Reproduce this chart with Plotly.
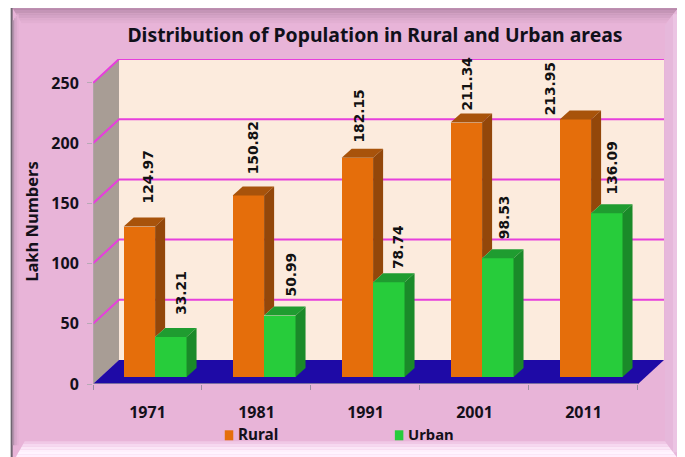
import plotly.graph_objects as go

# ---- data ----
years = ["1971", "1981", "1991", "2001", "2011"]
rural = [124.97, 150.82, 182.15, 211.34, 213.95]
urban = [33.21, 50.99, 78.74, 98.53, 136.09]
y_ticks = [0, 50, 100, 150, 200, 250]
series_names = ["Rural", "Urban"]

# ---- style ----
OFF = 8                                   # page margin of the browser
W, H = 685 - OFF, 457 - OFF
L, R, T, B = 93.3 - OFF, 664.0 - OFF, 58.7 - OFF, 383.7 - OFF     # plot box, pixels on the figure
PX_X = (637.7 - 93.3) / 5                 # px per category
PX_Y = (383.7 - 82.5) / 250               # px per value unit
WALL_DX, WALL_DY = 26 / PX_X, 24 / PX_Y   # depth of the chart box
BAR_X0, BAR_Y0 = 7.6 / PX_X, 7 / PX_Y     # where the bar fronts stand on the floor
BAR_W = 31.4 / PX_X
BAR_DX, BAR_DY = 10 / PX_X, 9 / PX_Y      # depth of a bar
C_RURAL = ("#E56E0B", "#A8530B", "#93470A")
C_URBAN = ("#27CC3B", "#1F9C30", "#1A8A29")
FONT = "Noto Sans"
LABEL_FONT = "DejaVu Sans"
# pixel nudges of the value labels relative to the bar front's top centre
SHIFT_R = [(9, 21), (5, 19), (2, 13), (1, 10), (-25, 2)]
SHIFT_U = [(10, 20), (11, 17), (9, 11), (7, 17), (5, 17)]


def px(x):
    """reference-picture x pixel to paper fraction"""
    return (x - OFF - L) / (R - L)


def py(y):
    return (B - (y - OFF)) / (B - T)


def poly(pts):
    return "M" + "L".join(f"{a},{b}" for a, b in pts) + "Z"


shapes = []


def paper_rect(x0, y0, x1, y1, color):
    shapes.append(dict(type="rect", xref="paper", yref="paper", layer="below",
                       x0=px(x0), x1=px(x1), y0=py(y0), y1=py(y1),
                       fillcolor=color, line_width=0))


def paper_poly(pts, color):
    shapes.append(dict(type="path", xref="paper", yref="paper", layer="below",
                       path=poly([(px(a), py(b)) for a, b in pts]),
                       fillcolor=color, line_width=0))


# picture frame
paper_rect(11, 7, 680, 458, "#6F6570")
paper_rect(13, 8, 678, 458, "#E8B4D8")
top_steps = ["#B98AAC", "#C495B6", "#CC9CBE", "#D4A3C6", "#DCAACD", "#E2AFD2"]
for i, c in enumerate(top_steps):
    paper_poly([(13 + 1.5 * i, 8 + 2.5 * i), (678 - 2 * i, 8 + 2.5 * i),
                (678 - 2 * i - 2, 10.5 + 2.5 * i), (13 + 1.5 * i + 1.5, 10.5 + 2.5 * i)], c)
for i, c in enumerate(["#B593AD", "#CBA0C0", "#D9A9CB", "#E2AFD2"]):
    paper_rect(13 + 1.5 * i, 20 - 2 * i, 14.5 + 1.5 * i, 445, c)
paper_poly([(678, 8), (678, 458), (665, 441), (665, 25)], "#E6B8DB")
paper_rect(673, 14, 678, 452, "#EBC4E3")
bottom_steps = ["#F0C8E6", "#F6D8F0", "#FBE6F7", "#FEF0FC", "#FFF4FF", "#FFEFFD"]
for i, c in enumerate(bottom_steps):
    paper_poly([(25 - 1.5 * i, 441 + 2.7 * i), (665 + 2 * i, 441 + 2.7 * i),
                (667 + 2 * i, 443.7 + 2.7 * i), (23.5 - 1.5 * i, 443.7 + 2.7 * i)], c)

# chart box (in data coordinates)
X_END = len(years)
shapes.append(dict(type="path", layer="below", xref="x", yref="y",
                   path=poly([(0, 0), (WALL_DX, WALL_DY), (WALL_DX, 250 + WALL_DY), (0, 250)]),
                   fillcolor="#A89D95", line_width=0))
shapes.append(dict(type="rect", layer="below", xref="x", yref="y",
                   x0=WALL_DX, x1=X_END + WALL_DX, y0=WALL_DY, y1=250 + WALL_DY,
                   fillcolor="#FCEBDD", line_width=0))
for v in y_ticks[1:]:
    shapes.append(dict(type="path", layer="below", xref="x", yref="y",
                       path=f"M0,{v}L{WALL_DX},{v + WALL_DY}L{X_END + WALL_DX},{v + WALL_DY}",
                       line=dict(color="#E63FDC", width=2)))
shapes.append(dict(type="path", layer="below", xref="x", yref="y",
                   path=poly([(0, 0), (WALL_DX, WALL_DY), (X_END + WALL_DX, WALL_DY), (X_END, 0)]),
                   fillcolor="#1E0AA6", line_width=0))
shapes.append(dict(type="line", layer="below", xref="x", yref="y",
                   x0=0, x1=X_END, y0=0, y1=0, line=dict(color="#9A8FA0", width=1.5)))
shapes.append(dict(type="line", layer="below", xref="x", yref="y",
                   x0=0, x1=0, y0=0, y1=250, line=dict(color="#B7A9B5", width=1)))

fig = go.Figure()
xs = [i + 0.5 + BAR_X0 for i in range(len(years))]

# front faces
fig.add_trace(go.Bar(x=[x - BAR_W / 2 for x in xs], y=rural, base=BAR_Y0, width=BAR_W,
                     name=series_names[0], showlegend=False, marker=dict(color=C_RURAL[0], line_width=0)))
fig.add_trace(go.Bar(x=[x + BAR_W / 2 for x in xs], y=urban, base=BAR_Y0, width=BAR_W,
                     name=series_names[1], showlegend=False, marker=dict(color=C_URBAN[0], line_width=0)))


def face(pts, color):
    fig.add_trace(go.Scatter(x=[p[0] for p in pts] + [pts[0][0]], y=[p[1] for p in pts] + [pts[0][1]],
                             mode="lines", fill="toself", fillcolor=color, line=dict(width=0, color=color),
                             hoverinfo="skip", showlegend=False))


annotations = []
for x, r, u, sr, su in zip(xs, rural, urban, SHIFT_R, SHIFT_U):
    x0, x1, x2 = x - BAR_W, x, x + BAR_W
    rt, ut = BAR_Y0 + r, BAR_Y0 + u
    # rural: top, and the part of the side that the urban bar leaves visible
    face([(x0, rt), (x1, rt), (x1 + BAR_DX, rt + BAR_DY), (x0 + BAR_DX, rt + BAR_DY)], C_RURAL[1])
    face([(x1, rt), (x1 + BAR_DX, rt + BAR_DY), (x1 + BAR_DX, ut + BAR_DY), (x1, ut)], C_RURAL[2])
    # urban: top and side
    face([(x1, ut), (x2, ut), (x2 + BAR_DX, ut + BAR_DY), (x1 + BAR_DX, ut + BAR_DY)], C_URBAN[1])
    face([(x2, ut), (x2 + BAR_DX, ut + BAR_DY), (x2 + BAR_DX, BAR_Y0 + BAR_DY), (x2, BAR_Y0)], C_URBAN[2])
    for cx, top, val, s in ((x - BAR_W / 2, rt, r, sr), (x + BAR_W / 2, ut, u, su)):
        annotations.append(dict(x=cx, y=top, xref="x", yref="y", text=f"{val:.2f}", showarrow=False,
                                textangle=-90, xanchor="center", yanchor="bottom",
                                xshift=s[0], yshift=s[1],
                                font=dict(family=LABEL_FONT, size=13.8, color="#111111", weight="bold")))

# legend keys and names
for name, color, kx, tx, size in ((series_names[0], C_RURAL[0], 225, 236.5, 15.3),
                                  (series_names[1], C_URBAN[0], 395, 406, 14.8)):
    paper_rect(kx, 430, kx + 8.5, 440, color)
    annotations.append(dict(x=px(tx), y=py(433.5), xref="paper", yref="paper", text=f"<b>{name}</b>",
                            showarrow=False, xanchor="left", yanchor="middle",
                            font=dict(family=FONT, size=size, color="#14101A")))

fig.update_layout(
    width=W, height=H, autosize=False,
    margin=dict(l=L, r=W - R, t=T, b=H - B, pad=0),
    paper_bgcolor="white", plot_bgcolor="rgba(0,0,0,0)",
    barmode="overlay", bargap=0, showlegend=False,
    shapes=shapes, annotations=annotations,
    title=dict(text="<b>Distribution of Population in Rural and Urban areas</b>",
               x=(375 - OFF) / W, xref="container", xanchor="center",
               y=1 - (35 - OFF) / H, yref="container", yanchor="middle",
               font=dict(family=FONT, size=19.4, color="#10101A")),
    font=dict(family=FONT, color="#14101A"),
    xaxis=dict(range=[0, X_END + WALL_DX], tickmode="array",
               tickvals=[i + 0.5 for i in range(len(years))], ticktext=years,
               ticks="", showgrid=False, zeroline=False, showline=False, ticklabelstandoff=17,
               tickfont=dict(family=FONT, size=16, weight="bold"),
               minor=dict(tickmode="array", tickvals=list(range(len(years) + 1)), ticks="outside",
                          ticklen=5, tickcolor="#9A8FA0", showgrid=False)),
    yaxis=dict(range=[0, 250 + WALL_DY], tickmode="array", tickvals=y_ticks,
               ticks="outside", ticklen=5, tickcolor="#B7A9B5", showgrid=False, zeroline=False,
               showline=False, ticklabelstandoff=5,
               tickfont=dict(family=FONT, size=16, weight="bold"),
               title=dict(text="<b>Lakh Numbers</b>", standoff=8,
                          font=dict(family=FONT, size=16.5))),
)

fig.write_html("out.html")
